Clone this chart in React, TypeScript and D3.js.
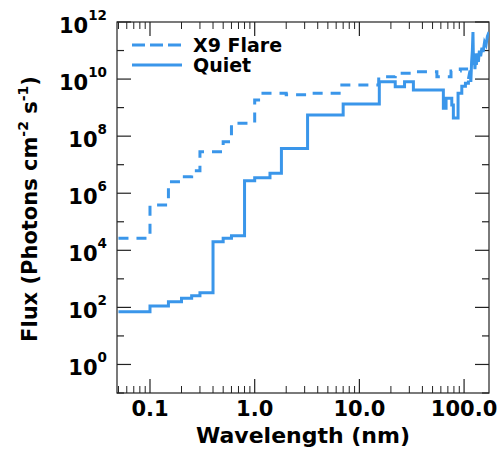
import React from "react";
import * as d3 from "d3";

// ---- data (wavelength bin start in nm, log10 flux) ----
const quietWl = [0.05, 0.1, 0.15, 0.2, 0.25, 0.3, 0.4, 0.5, 0.6, 0.8, 1.0, 1.4, 1.8, 3.2, 7.0, 15.5, 22, 27, 32.8, 63.4, 67.3, 76.3, 79.0, 87.6, 95.1, 103, 110];
const quietLog = [1.85, 2.05, 2.2, 2.32, 2.41, 2.51, 4.3, 4.42, 4.51, 6.44, 6.54, 6.7, 7.57, 8.74, 9.13, 9.91, 9.73, 9.91, 9.62, 8.98, 9.33, 9.09, 8.64, 9.5, 9.75, 9.85, 9.95];

const flareWl = [0.05, 0.1, 0.15, 0.2, 0.25, 0.3, 0.5, 0.6, 1.0, 1.2, 2.0, 3.5, 6.8, 15.3, 22, 33, 55, 75, 92, 110];
const flareLog = [4.42, 5.59, 6.4, 6.58, 6.79, 7.45, 7.8, 8.45, 9.27, 9.5, 9.45, 9.5, 9.79, 10.08, 10.2, 10.26, 10.08, 10.28, 10.35, 10.2];

// high resolution part (linear), shared by both spectra
const hiresWl = [110, 114, 116, 118, 120, 121.6, 123, 125, 127, 129, 131, 134, 137, 140, 144, 148, 152, 157, 162, 167, 173];
const hiresLog = [10.0, 10.3, 9.9, 10.6, 11.0, 11.65, 10.5, 10.9, 10.35, 10.8, 10.5, 10.9, 10.6, 11.0, 10.8, 11.1, 10.95, 11.3, 11.2, 11.5, 11.65];

const xTickLabels = ["0.1", "1.0", "10.0", "100.0"];
const xTickValues = [0.1, 1, 10, 100];
const yLabelExps = [0, 2, 4, 6, 8, 10, 12];

const seriesNames = ["X9 Flare", "Quiet"];

const BLUE = "#3a96ea";
const FONT = "'DejaVu Sans', sans-serif";

export default function App() {
  const W = 502, H = 449;
  const L = 117, R = 489, T = 22, B = 393;
  const x = d3.scaleLog().domain([0.0484, 173]).range([L, R]);
  const y = d3.scaleLog().domain([1e-1, 1e12]).range([B, T]);

  const step = d3.line<[number, number]>().x(d => x(d[0])).y(d => y(Math.pow(10, d[1]))).curve(d3.curveStepAfter);
  const lin = d3.line<[number, number]>().x(d => x(d[0])).y(d => y(Math.pow(10, d[1])));

  const qPts: [number, number][] = quietWl.map((w, i) => [w, quietLog[i]]);
  const fPts: [number, number][] = flareWl.map((w, i) => [w, flareLog[i]]);
  const hPts: [number, number][] = hiresWl.map((w, i) => [w, hiresLog[i]]);

  const xMinor: number[] = [];
  for (let e = -2; e <= 2; e++) {
    for (let m = 2; m <= 9; m++) {
      const v = m * Math.pow(10, e);
      if (v >= 0.0484 && v <= 173) xMinor.push(v);
    }
  }
  const yTicks: number[] = [];
  for (let e = -1; e <= 12; e++) yTicks.push(e);

  const tickColor = "#222";

  return (
    <svg width={W} height={H} style={{ position: "absolute", left: 0, top: 0, background: "#fff" }}>
      <rect x={L} y={T} width={R - L} height={B - T} fill="none" stroke={tickColor} strokeWidth={1.2} />
      {xTickValues.map(v => (
        <g key={"xm" + v}>
          <line x1={x(v)} x2={x(v)} y1={B} y2={B - 14} stroke={tickColor} strokeWidth={1.2} />
          <line x1={x(v)} x2={x(v)} y1={T} y2={T + 14} stroke={tickColor} strokeWidth={1.2} />
        </g>
      ))}
      {xMinor.map(v => (
        <g key={"xn" + v}>
          <line x1={x(v)} x2={x(v)} y1={B} y2={B - 7} stroke={tickColor} strokeWidth={1} />
          <line x1={x(v)} x2={x(v)} y1={T} y2={T + 7} stroke={tickColor} strokeWidth={1} />
        </g>
      ))}
      {yTicks.map(e => {
        const len = e % 2 === 0 ? 14 : 7;
        const yy = y(Math.pow(10, e));
        return (
          <g key={"y" + e}>
            <line x1={L} x2={L + len} y1={yy} y2={yy} stroke={tickColor} strokeWidth={1.2} />
            <line x1={R} x2={R - len} y1={yy} y2={yy} stroke={tickColor} strokeWidth={1.2} />
          </g>
        );
      })}
      {xTickValues.map((v, i) => (
        <text key={"xl" + v} x={x(v)} y={416} textAnchor="middle" fontFamily={FONT} fontWeight="bold" fontSize={21} fill="#000">
          {xTickLabels[i]}
        </text>
      ))}
      {yLabelExps.map(e => (
        <text key={"yl" + e} x={107} y={y(Math.pow(10, e)) + 11} textAnchor="end" fontFamily={FONT} fontWeight="bold" fontSize={21} fill="#000">
          10<tspan fontSize={13.5} dy={-13}>{e}</tspan>
        </text>
      ))}
      <text x={(L + R) / 2} y={443} textAnchor="middle" fontFamily={FONT} fontWeight="bold" fontSize={22} fill="#000">
        Wavelength (nm)
      </text>
      <text transform={`translate(37,${209}) rotate(-90)`} textAnchor="middle" fontFamily={FONT} fontWeight="bold" fontSize={21} fill="#000">
        Flux (Photons cm<tspan fontSize={14} dy={-9}>-2</tspan><tspan dy={9}> s</tspan><tspan fontSize={14} dy={-9}>-1</tspan><tspan dy={9}>)</tspan>
      </text>
      <defs>
        <clipPath id="clip">
          <rect x={L} y={T} width={R - L} height={B - T} />
        </clipPath>
      </defs>
      <g clipPath="url(#clip)">
        <path d={step(qPts) || ""} fill="none" stroke={BLUE} strokeWidth={3} />
        <path d={step(fPts) || ""} fill="none" stroke={BLUE} strokeWidth={3} strokeDasharray="10,8" />
        <path d={lin(hPts) || ""} fill="none" stroke={BLUE} strokeWidth={3} />
      </g>
      <line x1={132} x2={182} y1={45} y2={45} stroke={BLUE} strokeWidth={3} strokeDasharray="13,5" />
      <text x={193} y={52} fontFamily={FONT} fontWeight="bold" fontSize={19} fill="#000">{seriesNames[0]}</text>
      <line x1={132} x2={182} y1={65} y2={65} stroke={BLUE} strokeWidth={3} />
      <text x={193} y={72} fontFamily={FONT} fontWeight="bold" fontSize={19} fill="#000">{seriesNames[1]}</text>
    </svg>
  );
}
